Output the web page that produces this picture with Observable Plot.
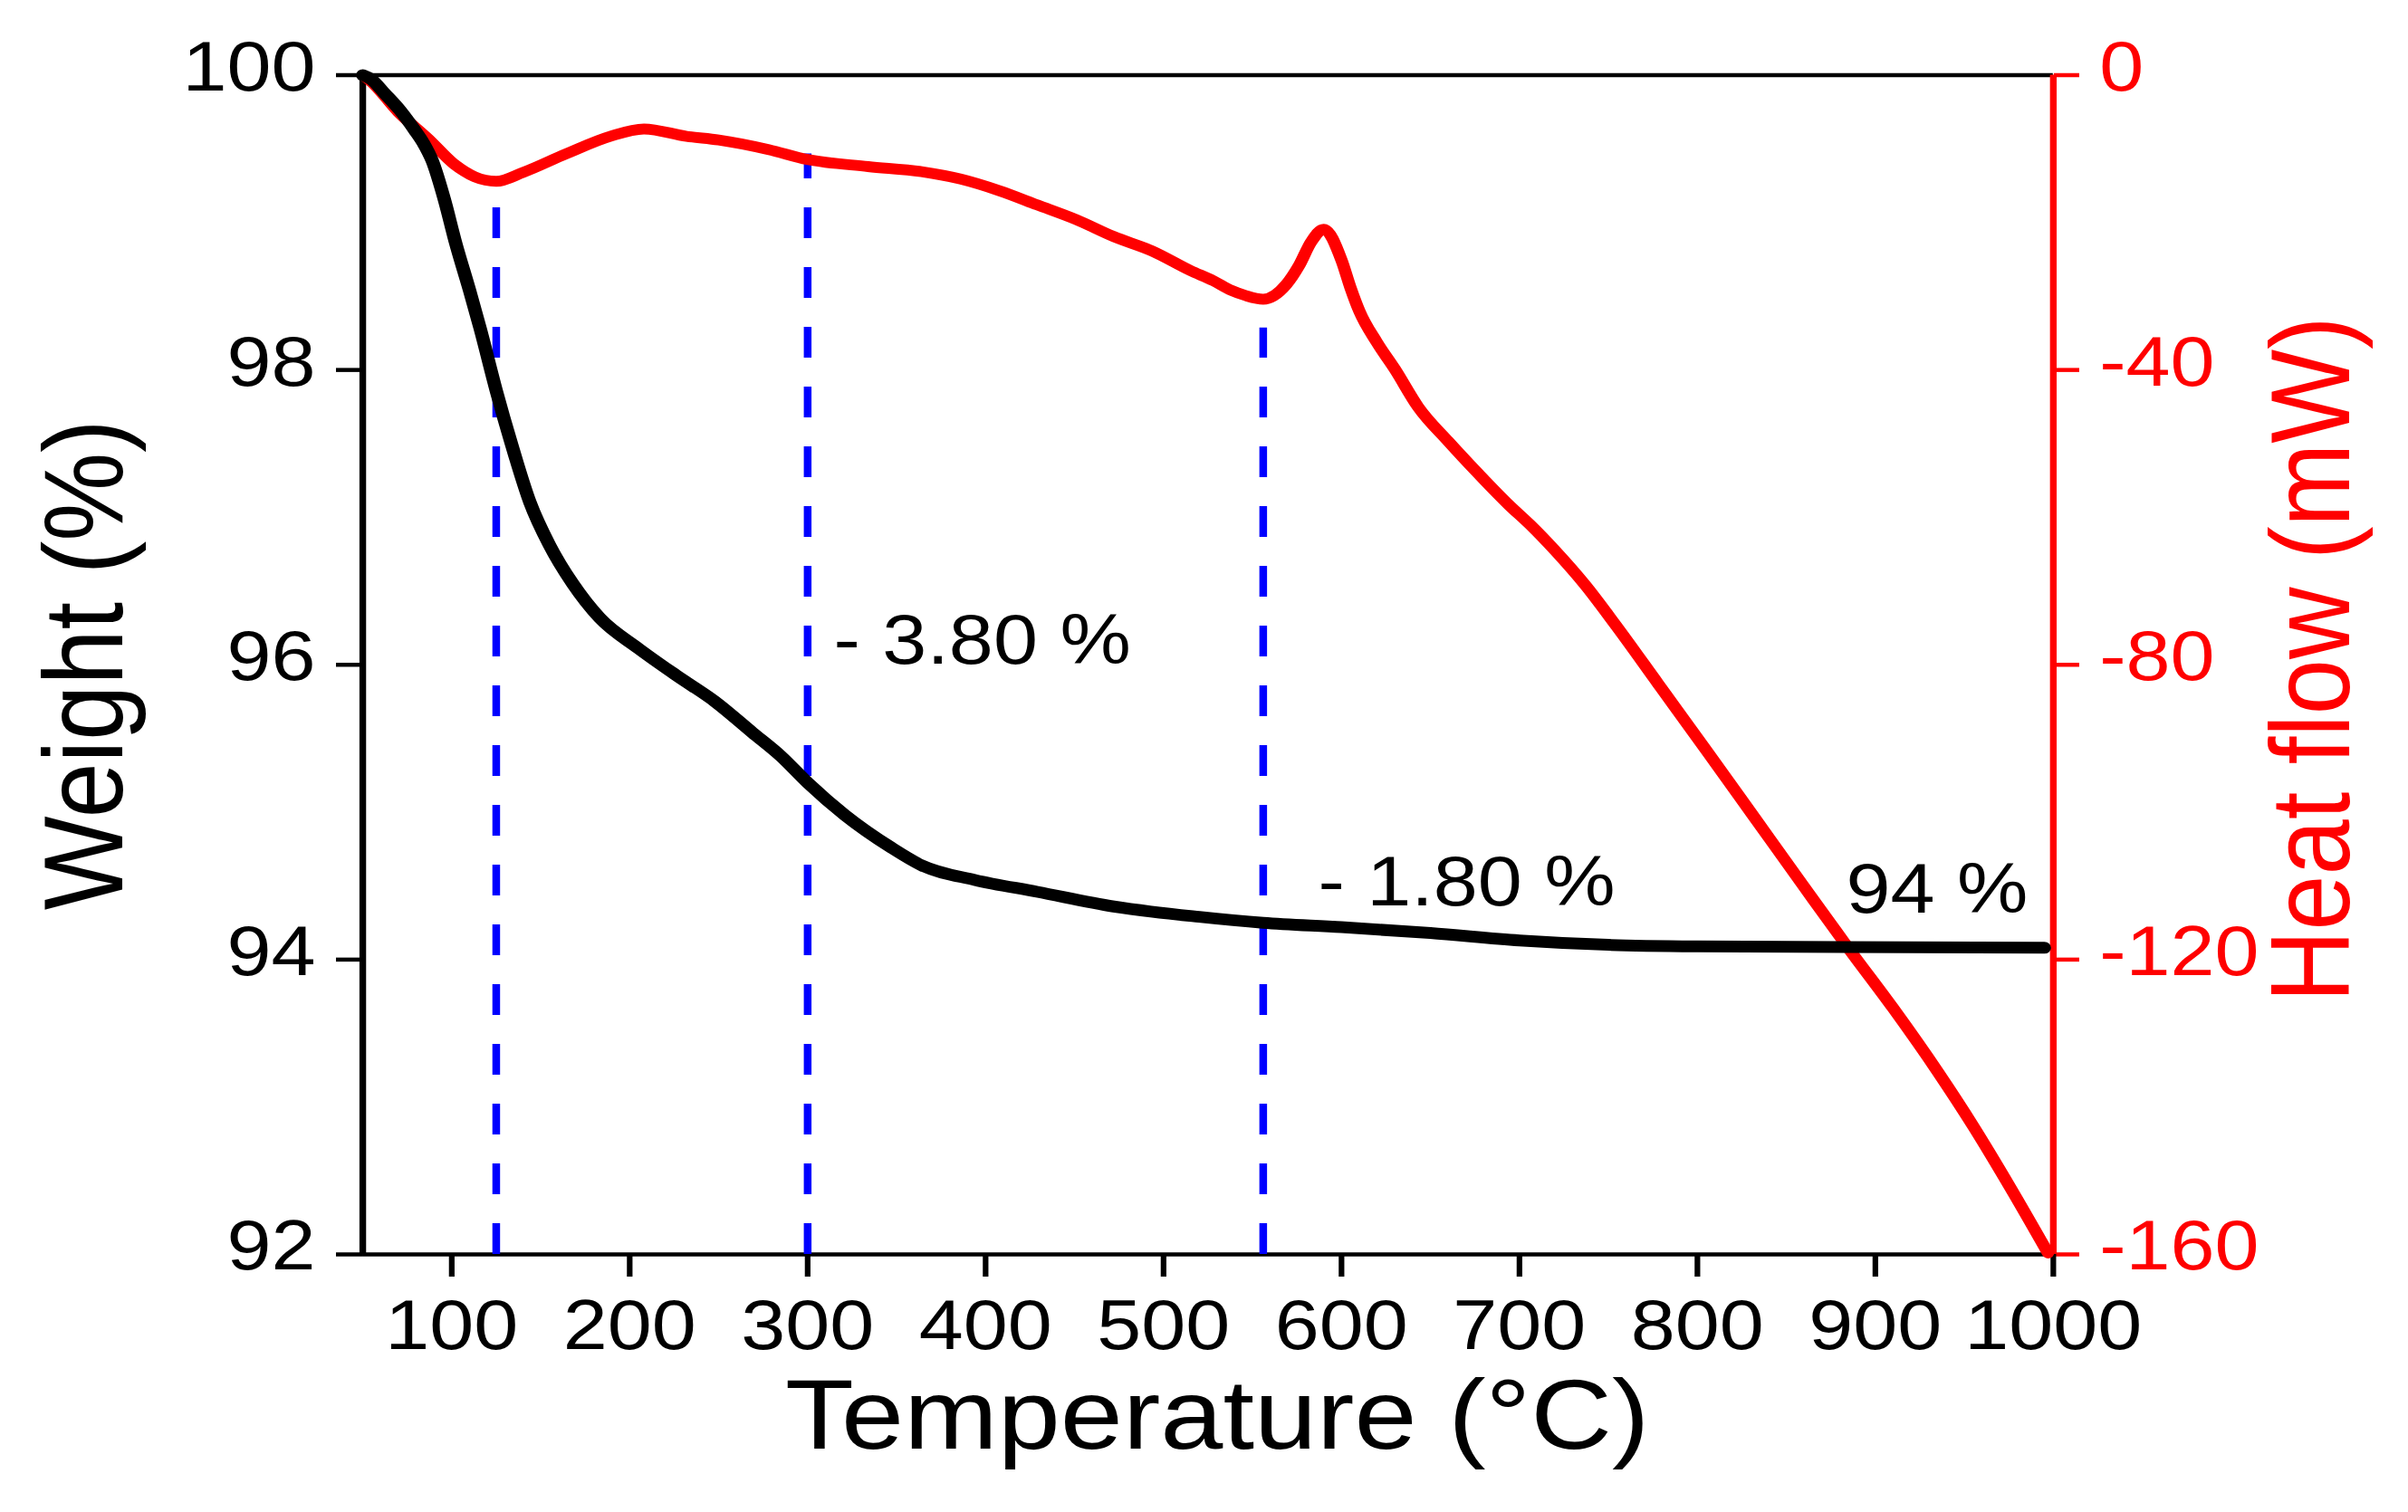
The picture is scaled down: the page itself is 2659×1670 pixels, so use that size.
<!DOCTYPE html>
<html>
<head>
<meta charset="utf-8">
<script src="https://cdn.jsdelivr.net/npm/d3@7"></script>
<script src="https://cdn.jsdelivr.net/npm/@observablehq/plot@0.6"></script>
<style>
  html, body { margin: 0; padding: 0; background: #fff; overflow: hidden; }
  #chart svg { display: block; transform: scaleX(1.13); transform-origin: 0 0; }
</style>
</head>
<body>
<div id="chart"></div>
<script>
// TGA curve: temperature (°C) and weight (%)
const tgaTemp = [50, 55, 62, 71, 79, 84, 89, 96, 102, 110, 116, 125, 133.5, 144, 155, 168, 183, 205, 226, 248, 269, 285, 300, 321, 347, 364, 394, 429, 472, 520, 556, 600, 650, 700, 750, 800, 995];
const tgaWeight = [100, 99.97, 99.88, 99.76, 99.63, 99.54, 99.42, 99.15, 98.87, 98.54, 98.28, 97.86, 97.5, 97.1, 96.81, 96.55, 96.32, 96.11, 95.93, 95.75, 95.54, 95.38, 95.2, 94.98, 94.76, 94.64, 94.54, 94.46, 94.36, 94.29, 94.25, 94.22, 94.18, 94.13, 94.1, 94.09, 94.08];

// DSC curve: temperature (°C) and heat flow (mW)
const dscTemp = [50, 54, 70, 87, 101, 113, 125, 140, 164, 189, 208, 232, 250, 278, 300, 334, 364, 386, 408, 429, 451, 472, 494, 515, 528, 538, 546, 556, 569, 576, 583, 590, 600, 605, 610, 620, 630, 643, 660, 677, 694, 706, 720, 737, 754, 778, 805, 832, 859, 885, 910, 935, 955, 976, 997];
const dscHeat = [0, -0.7, -5.0, -8.7, -12.0, -13.8, -14.4, -13.2, -10.7, -8.3, -7.3, -8.3, -8.8, -10.1, -11.45, -12.4, -13.1, -14.1, -15.7, -17.6, -19.6, -21.9, -23.9, -26.5, -27.9, -29.2, -29.9, -30.4, -28.4, -25.9, -22.6, -20.9, -25.1, -28.8, -32.0, -36.3, -39.9, -45.0, -49.7, -54.1, -58.3, -61.0, -64.5, -69.2, -74.6, -82.6, -91.6, -100.7, -109.8, -118.5, -126.6, -135.2, -142.6, -151.0, -159.8];

// dashed guides: temperature and the heat flow where each one starts
const guideTemp = [125, 300, 556];
const guideTopHeat = [-18, -10.7, -34.3];

// annotations
const noteText = ["- 3.80 %", "- 1.80 %", "94 %"];
const noteTemp = [314.6, 586.8, 883.5];
const noteWeight = [96.16, 94.52, 94.47];

// ticks
const tempTicks = [100, 200, 300, 400, 500, 600, 700, 800, 900, 1000];
const weightTicks = [92, 94, 96, 98, 100];
const heatTicks = [0, -40, -80, -120, -160];

const RED = "#ff0000";
const BLUE = "#0000ff";

// heat flow is drawn against the weight scale
const heatToWeight = d3.scaleLinear([-160, 0], [92, 100]);

const tga = tgaTemp.map((t, i) => ({t, w: tgaWeight[i]}));
const dsc = dscTemp.map((t, i) => ({t, w: heatToWeight(dscHeat[i])}));
const guides = guideTemp.map((t, i) => ({t, top: heatToWeight(guideTopHeat[i])}));
const notes = noteText.map((s, i) => ({s, t: noteTemp[i], w: noteWeight[i]}));

const title = {textAnchor: "middle", lineAnchor: "middle", fontSize: 110};

const plot = Plot.plot({
  width: 2353,
  height: 1670,
  marginLeft: 354,
  marginRight: 347,
  marginTop: 82.5,
  marginBottom: 285,
  x: {domain: [50, 1000], label: null},
  y: {domain: [92, 100], label: null},
  style: {fontFamily: "'Liberation Sans', Arial, sans-serif", fontSize: "78px", background: "#fff", color: "#000"},
  marks: [
    // left axis
    Plot.axisY(weightTicks, {anchor: "left", tickSize: 25.7, strokeWidth: 4.5, fill: "none", label: null}),
    Plot.axisY(weightTicks, {anchor: "left", tickSize: 0, tickPadding: 46, dy: -8, stroke: "none", fontSize: 78, tickFormat: d => String(d), label: null}),
    // right axis
    Plot.axisY(heatTicks.map(heatToWeight), {anchor: "right", tickSize: 24.8, strokeWidth: 4.5, stroke: RED, fill: "none", label: null}),
    Plot.axisY(heatTicks.map(heatToWeight), {anchor: "right", tickSize: 0, tickPadding: 45, dy: -8, stroke: "none", fill: RED, fontSize: 78, tickFormat: d => String(Math.round(heatToWeight.invert(d))), label: null}),
    // bottom axis
    Plot.axisX(tempTicks, {anchor: "bottom", tickSize: 25, tickPadding: 24, strokeWidth: 5.5, fontSize: 78, tickFormat: d => String(d), label: null}),
    // frame
    Plot.ruleY([92, 100], {stroke: "#000", strokeWidth: 4.5}),
    Plot.ruleX([50], {stroke: "#000", strokeWidth: 6.5}),
    Plot.ruleX([1000], {stroke: RED, strokeWidth: 6.5}),
    // dashed guides
    Plot.ruleX(guides, {x: "t", y1: 92, y2: "top", stroke: BLUE, strokeWidth: 7.5, strokeDasharray: "34,32"}),
    // curves
    Plot.line(dsc, {x: "t", y: "w", stroke: RED, strokeWidth: 12, curve: "monotone-x"}),
    Plot.line(tga, {x: "t", y: "w", stroke: "#000", strokeWidth: 13, curve: "monotone-x"}),
    // annotations
    Plot.text(notes, {x: "t", y: "w", text: "s", textAnchor: "start", fontSize: 78, fill: "#000"}),
    // axis titles
    Plot.text(["Weight (%)"], {...title, frameAnchor: "left", dx: -270, rotate: -90, fill: "#000"}),
    Plot.text(["Heat flow (mW)"], {...title, frameAnchor: "right", dx: 254, dy: -6, rotate: -90, fill: RED}),
    Plot.text(["Temperature (°C)"], {...title, frameAnchor: "bottom", dx: 9, dy: 179, fill: "#000"})
  ]
});

document.querySelector("#chart").append(plot);
</script>
</body>
</html>
